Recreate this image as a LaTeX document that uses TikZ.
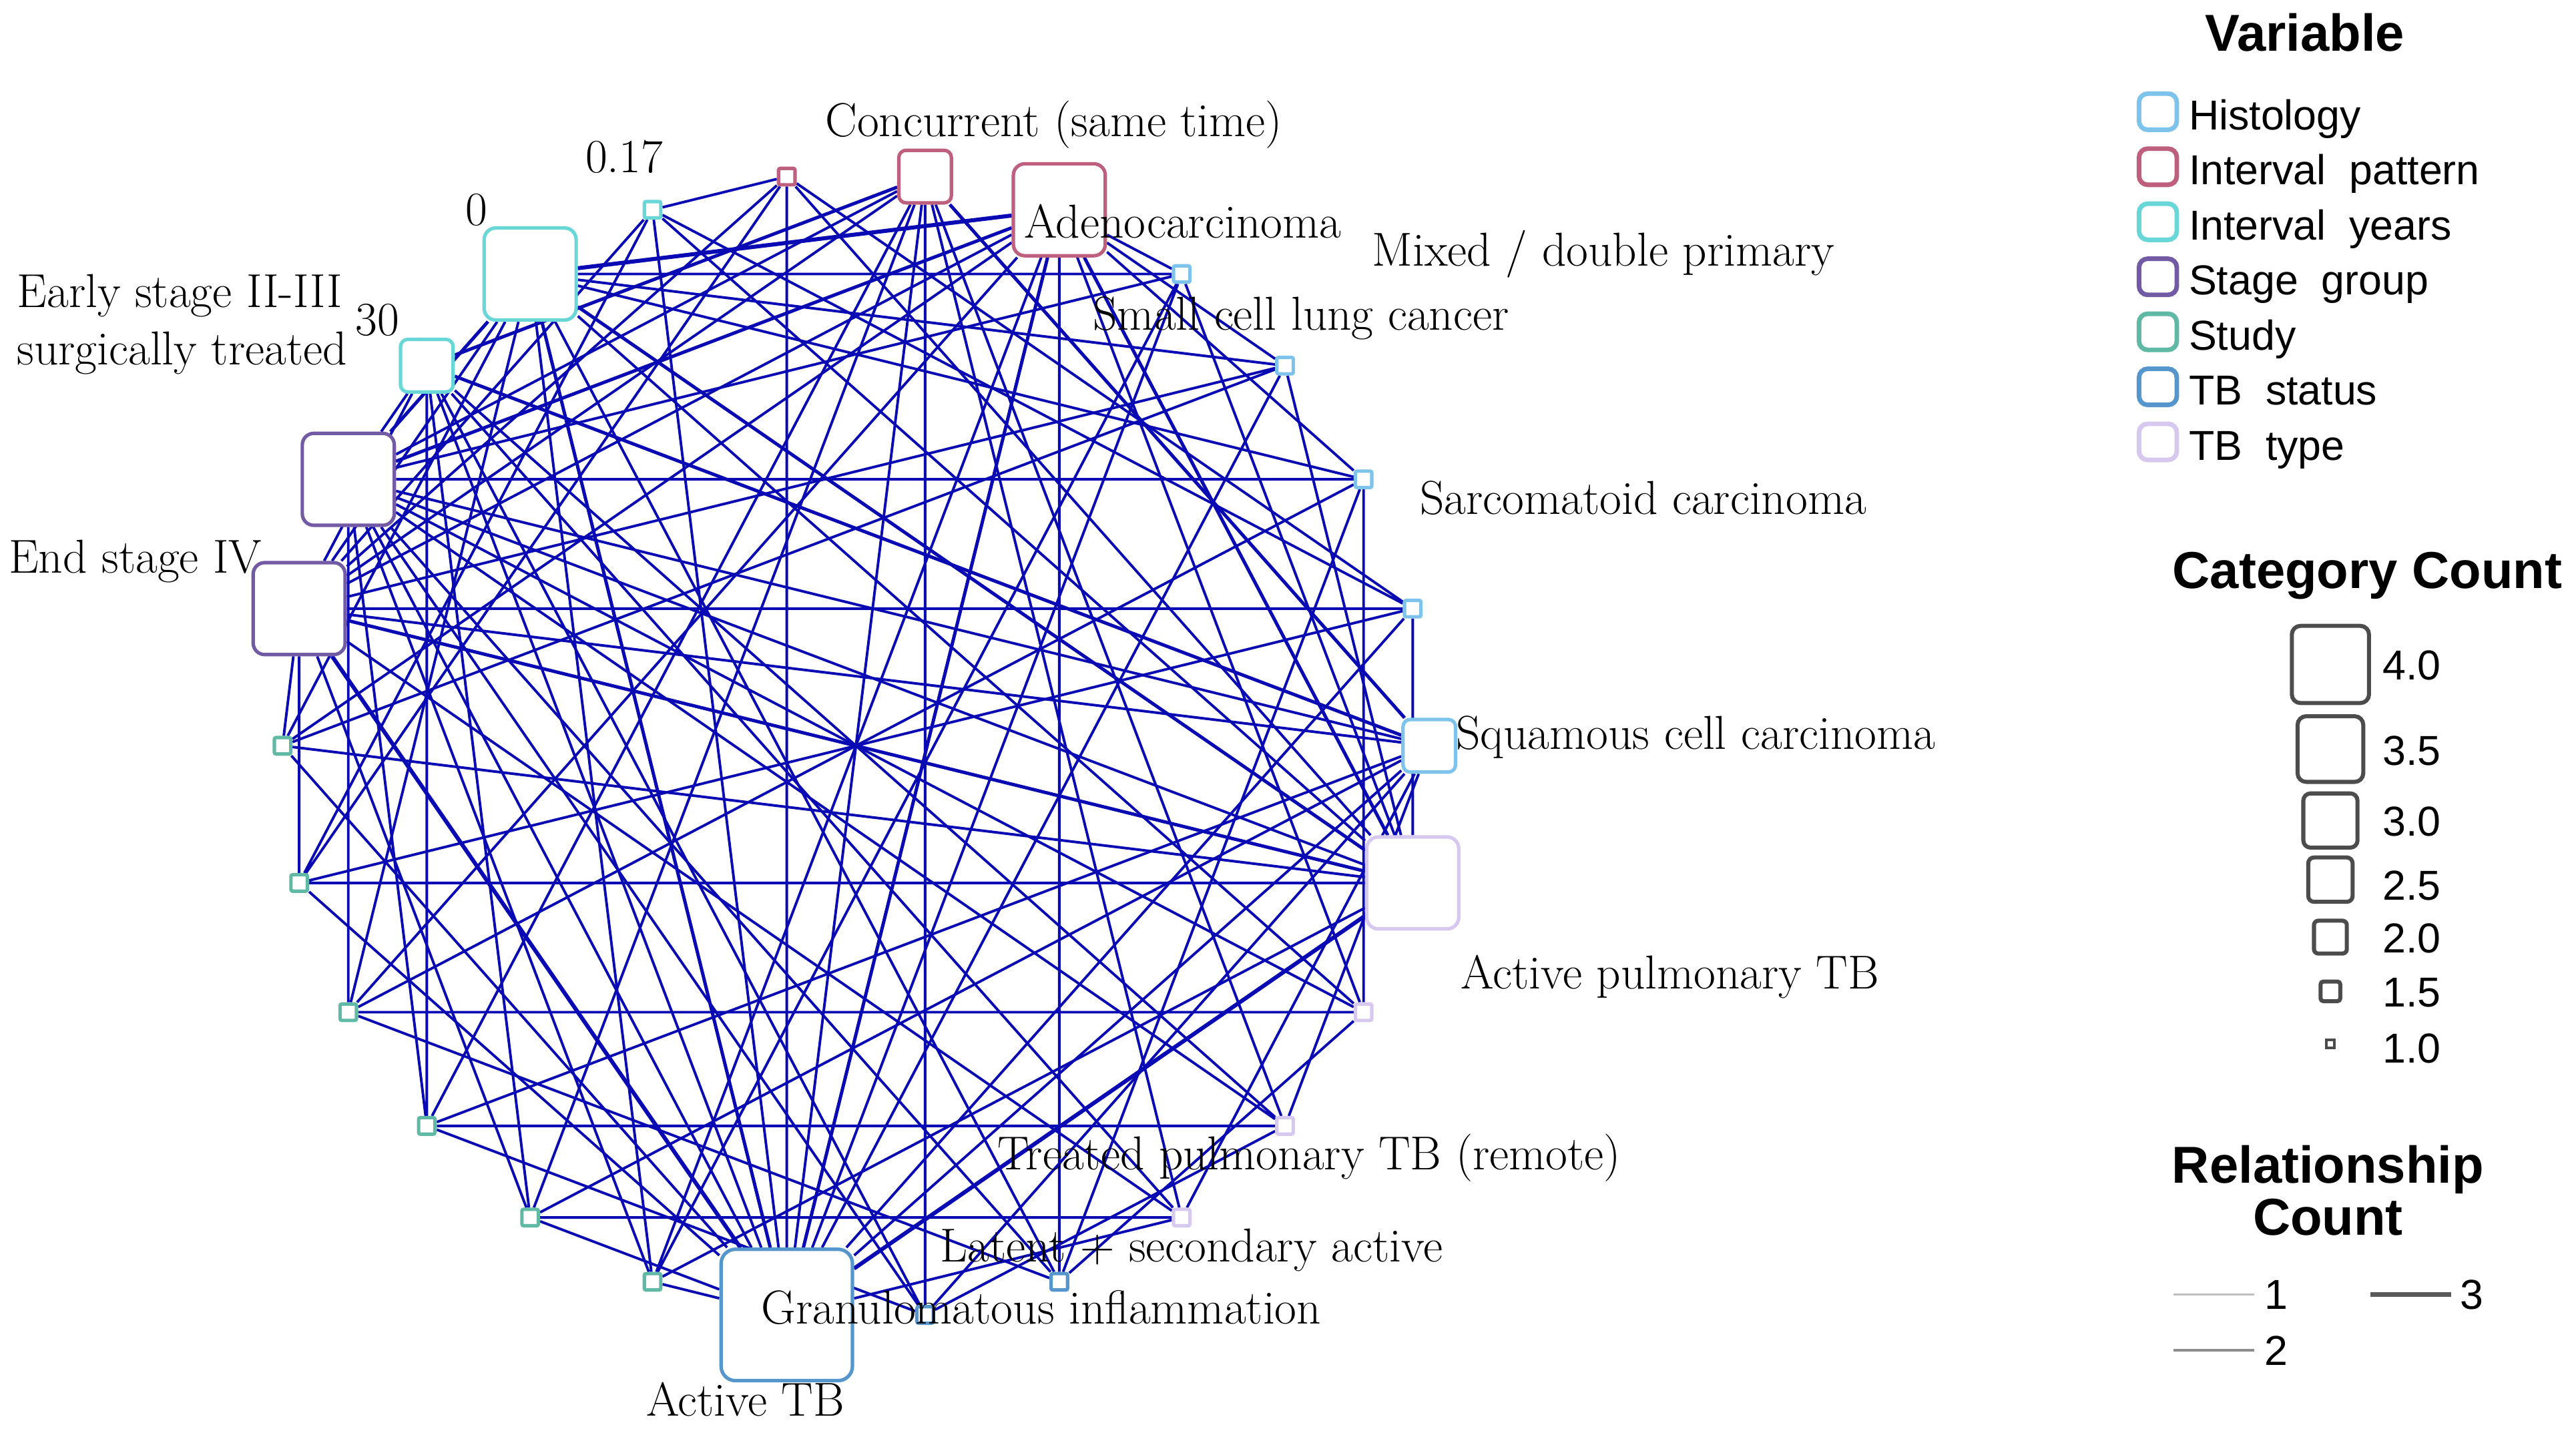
\documentclass[tikz,border=0pt]{standalone}
\usepackage{fontspec}
\newfontfamily\legendfont{Liberation Sans}
\usepackage{tikz}
\usetikzlibrary{backgrounds}

\definecolor{histo}{RGB}{125,195,235}
\definecolor{ipat}{RGB}{190,95,125}
\definecolor{iyrs}{RGB}{105,215,215}
\definecolor{stage}{RGB}{115,90,165}
\definecolor{study}{RGB}{95,185,165}
\definecolor{tbstat}{RGB}{85,150,205}
\definecolor{tbtype}{RGB}{215,200,240}
\definecolor{linkblue}{RGB}{10,10,180}

\begin{document}
\begin{tikzpicture}[x = 0.02cm, y = -0.02cm,
    cat/.style = {rectangle, draw, fill = white, line width = 1.2pt, inner sep = 0pt},
    one/.style = {cat, minimum size = 0.2cm, rounded corners = 0.6pt},
    two/.style = {cat, minimum size = 0.64cm, rounded corners = 2.5pt},
    three/.style = {cat, minimum size = 1.12cm, rounded corners = 4pt},
    four/.style = {cat, minimum size = 1.6cm, rounded corners = 5pt},
    link/.style = {linkblue, line width = 0.9pt},
    link2/.style = {linkblue, line width = 1.15pt},
    link3/.style = {linkblue, line width = 1.4pt},
    lab/.style = {anchor = base west, inner sep = 0pt, font = \fontsize{16.5}{20}\selectfont},
    legtitle/.style = {anchor = base, inner sep = 0pt, font = \legendfont\bfseries\fontsize{18}{21}\selectfont},
    legtext/.style = {anchor = base west, inner sep = 0pt, font = \legendfont\fontsize{14.5}{17}\selectfont},
    legbox/.style = {rectangle, draw, line width = 1.6pt, minimum width = 0.46cm, minimum height = 0.44cm, rounded corners = 3pt, inner sep = 0pt},
    sizebox/.style = {rectangle, draw = black!70, line width = 1.4pt, fill = white, inner sep = 0pt}]
      \useasboundingbox (0, 0) rectangle (1568, 872);

      % categories round the circle
      \node [two, draw = histo] (hist1) at (870.0, 454.0){};
      \node [one, draw = histo] (hist2) at (859.9, 370.5){};
      \node [one, draw = histo] (hist3) at (830.0, 291.8){};
      \node [one, draw = histo] (hist4) at (782.2, 222.6){};
      \node [one, draw = histo] (hist5) at (719.3, 166.8){};
      \node [three, draw = ipat] (pat1) at (644.8, 127.7){};
      \node [two, draw = ipat] (pat2) at (563.1, 107.5){};
      \node [one, draw = ipat] (pat3) at (478.9, 107.5){};
      \node [one, draw = iyrs] (yrs1) at (397.2, 127.7){};
      \node [three, draw = iyrs] (yrs2) at (322.7, 166.8){};
      \node [two, draw = iyrs] (yrs3) at (259.8, 222.6){};
      \node [three, draw = stage] (stg1) at (212.0, 291.8){};
      \node [three, draw = stage] (stg2) at (182.1, 370.5){};
      \node [one, draw = study] (std1) at (172.0, 454.0){};
      \node [one, draw = study] (std2) at (182.1, 537.5){};
      \node [one, draw = study] (std3) at (212.0, 616.2){};
      \node [one, draw = study] (std4) at (259.8, 685.4){};
      \node [one, draw = study] (std5) at (322.7, 741.2){};
      \node [one, draw = study] (std6) at (397.2, 780.3){};
      \node [four, draw = tbstat] (stat1) at (478.9, 800.5){};
      \node [one, draw = tbstat] (stat2) at (563.1, 800.5){};
      \node [one, draw = tbstat] (stat3) at (644.8, 780.3){};
      \node [one, draw = tbtype] (type1) at (719.3, 741.2){};
      \node [one, draw = tbtype] (type2) at (782.2, 685.4){};
      \node [one, draw = tbtype] (type3) at (830.0, 616.2){};
      \node [three, draw = tbtype] (type4) at (859.9, 537.5){};

      \begin{scope}[on background layer]
        \fill [white] (0, 0) rectangle (1568, 872);
        % one closed walk per study
        \draw [link] (hist4) -- (pat1) -- (yrs2) -- (stg2) -- (std1) -- (stat1) -- (type4) -- (hist4) -- (yrs2) -- (std1) -- (type4) -- (pat1) -- (stg2) -- (stat1) -- (hist4) -- (stg2) -- (type4) -- (yrs2) -- (stat1) -- (pat1) -- (std1) -- (hist4);
        \draw [link] (hist2) -- (pat3) -- (yrs1) -- (stg2) -- (std2) -- (stat1) -- (type4) -- (hist2) -- (yrs1) -- (std2) -- (type4) -- (pat3) -- (stg2) -- (stat1) -- (hist2) -- (stg2) -- (type4) -- (yrs1) -- (stat1) -- (pat3) -- (std2) -- (hist2);
        \draw [link] (hist3) -- (pat1) -- (yrs2) -- (stg1) -- (std3) -- (stat3) -- (type3) -- (hist3) -- (yrs2) -- (std3) -- (type3) -- (pat1) -- (stg1) -- (stat3) -- (hist3) -- (stg1) -- (type3) -- (yrs2) -- (stat3) -- (pat1) -- (std3) -- (hist3);
        \draw [link] (hist1) -- (pat2) -- (yrs3) -- (stg1) -- (std4) -- (stat2) -- (type2) -- (hist1) -- (yrs3) -- (std4) -- (type2) -- (pat2) -- (stg1) -- (stat2) -- (hist1) -- (stg1) -- (type2) -- (yrs3) -- (stat2) -- (pat2) -- (std4) -- (hist1);
        \draw [link] (hist1) -- (pat2) -- (yrs3) -- (stg2) -- (std5) -- (stat1) -- (type1) -- (hist1) -- (yrs3) -- (std5) -- (type1) -- (pat2) -- (stg2) -- (stat1) -- (hist1) -- (stg2) -- (type1) -- (yrs3) -- (stat1) -- (pat2) -- (std5) -- (hist1);
        \draw [link] (hist5) -- (pat1) -- (yrs2) -- (stg1) -- (std6) -- (stat1) -- (type4) -- (hist5) -- (yrs2) -- (std6) -- (type4) -- (pat1) -- (stg1) -- (stat1) -- (hist5) -- (stg1) -- (type4) -- (yrs2) -- (stat1) -- (pat1) -- (std6) -- (hist5);
        % shared pairs
        \draw [link2] (stg2) -- (type4);
        \draw [link2] (pat1) -- (stat1);
        \draw [link2] (pat1) -- (type4);
        \draw [link2] (yrs2) -- (stat1);
        \draw [link2] (yrs2) -- (type4);
        \draw [link2] (pat1) -- (stg1);
        \draw [link2] (yrs2) -- (stg1);
        \draw [link2] (hist1) -- (pat2) -- (yrs3) -- (hist1);
        \draw [link3] (stg2) -- (stat1);
        \draw [link3] (stat1) -- (type4);
        \draw [link3] (pat1) -- (yrs2);
      \end{scope}

      % labels
      \node [lab] (lconc) at (502, 83){Concurrent (same time)};
      \node [lab] (lyrs1) at (356, 105){0.17};
      \node [lab] (lyrs2) at (283, 137){0};
      \node [lab] (lyrs3) at (216, 204){30};
      \node [lab] (learly) at (10, 187){Early stage II-III};
      \node [lab] (lsurg) at (10, 222){surgically treated};
      \node [lab] (lend) at (5, 349){End stage IV};
      \node [lab] (ladeno) at (623, 145){Adenocarcinoma};
      \node [lab] (lmixed) at (835, 162){Mixed / double primary};
      \node [lab] (lsmall) at (665, 201){Small cell lung cancer};
      \node [lab] (lsarc) at (864, 313){Sarcomatoid carcinoma};
      \node [lab] (lsqua) at (886, 456){Squamous cell carcinoma};
      \node [lab] (lapt) at (889, 602){Active pulmonary TB};
      \node [lab] (ltreat) at (607, 712){Treated pulmonary TB (remote)};
      \node [lab] (llat) at (572, 768){Latent + secondary active};
      \node [lab] (lgran) at (463, 806){Granulomatous inflammation};
      \node [lab] (lact) at (393, 862){Active TB};

      % legend: variable
      \node [legtitle] (tvar) at (1403, 31){Variable};
      \node [legbox, draw = histo] (k1) at (1313.5, 68){};
      \node [legbox, draw = ipat] (k2) at (1313.5, 101.5){};
      \node [legbox, draw = iyrs] (k3) at (1313.5, 135){};
      \node [legbox, draw = stage] (k4) at (1313.5, 168.5){};
      \node [legbox, draw = study] (k5) at (1313.5, 202){};
      \node [legbox, draw = tbstat] (k6) at (1313.5, 235.5){};
      \node [legbox, draw = tbtype] (k7) at (1313.5, 269){};
      \node [legtext] (v1) at (1332, 79){Histology};
      \node [legtext] (v2) at (1332, 112.5){Interval\ \ pattern};
      \node [legtext] (v3) at (1332, 146){Interval\ \ years};
      \node [legtext] (v4) at (1332, 179.5){Stage\ \ group};
      \node [legtext] (v5) at (1332, 213){Study};
      \node [legtext] (v6) at (1332, 246.5){TB\ \ status};
      \node [legtext] (v7) at (1332, 280){TB\ \ type};

      % legend: category count
      \node [legtitle] (tcat) at (1441, 358){Category Count};
      \node [sizebox, minimum size = 0.94cm, rounded corners = 3pt] (c40) at (1418.5, 404.5){};
      \node [sizebox, minimum size = 0.80cm, rounded corners = 3pt] (c35) at (1418.5, 456){};
      \node [sizebox, minimum size = 0.66cm, rounded corners = 2.5pt] (c30) at (1418.5, 499.5){};
      \node [sizebox, minimum size = 0.54cm, rounded corners = 2pt] (c25) at (1418.5, 535.5){};
      \node [sizebox, minimum size = 0.40cm, rounded corners = 1.5pt] (c20) at (1418.5, 570.5){};
      \node [sizebox, minimum size = 0.24cm, rounded corners = 1pt] (c15) at (1418.5, 603.5){};
      \node [sizebox, minimum size = 0.10cm, line width = 1pt] (c10) at (1418.5, 635.5){};
      \node [legtext] (n40) at (1450, 414){4.0};
      \node [legtext] (n35) at (1450, 466){3.5};
      \node [legtext] (n30) at (1450, 509){3.0};
      \node [legtext] (n25) at (1450, 548){2.5};
      \node [legtext] (n20) at (1450, 580){2.0};
      \node [legtext] (n15) at (1450, 613){1.5};
      \node [legtext] (n10) at (1450, 647){1.0};

      % legend: relationship count
      \node [legtitle] (trel1) at (1417, 720){Relationship};
      \node [legtitle] (trel2) at (1417, 752){Count};
      \coordinate (r1a) at (1323, 788);
      \coordinate (r1b) at (1372, 788);
      \coordinate (r2a) at (1323, 822);
      \coordinate (r2b) at (1372, 822);
      \coordinate (r3a) at (1443, 788);
      \coordinate (r3b) at (1492, 788);
      \draw [black!25, line width = 0.6pt] (r1a) -- (r1b);
      \draw [black!45, line width = 1.1pt] (r2a) -- (r2b);
      \draw [black!65, line width = 1.5pt] (r3a) -- (r3b);
      \node [legtext] (w1) at (1378, 797){1};
      \node [legtext] (w2) at (1378, 831){2};
      \node [legtext] (w3) at (1497, 797){3};
    \end{tikzpicture}
\end{document}
